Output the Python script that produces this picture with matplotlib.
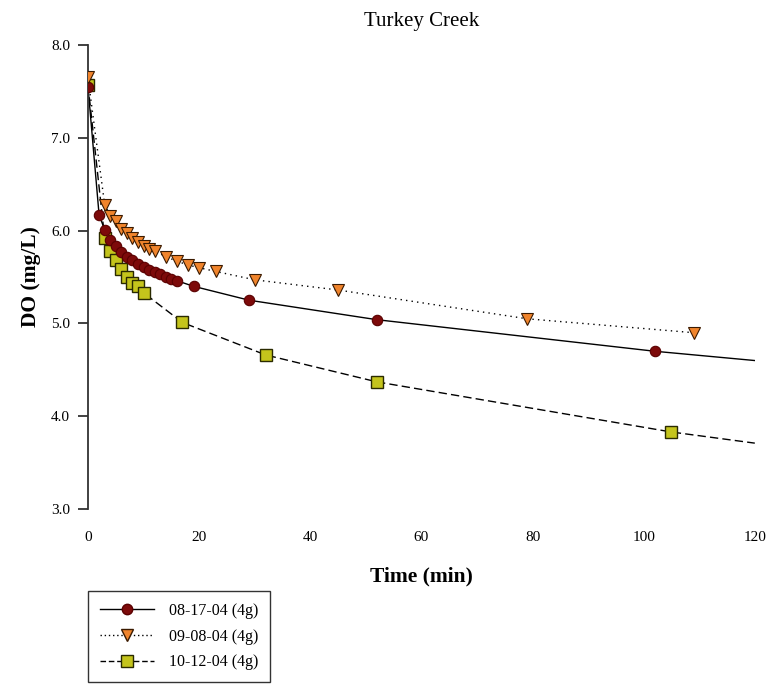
import matplotlib
matplotlib.use("Agg")
import matplotlib.pyplot as plt

# 08-17-04 (4g): measured points, then end of the drawn line at 120 min
t_aug = [0, 2, 3, 4, 5, 6, 7, 8, 9, 10, 11, 12, 13, 14, 15, 16, 19, 29, 52, 102]
do_aug = [7.55, 6.17, 6.01, 5.90, 5.83, 5.77, 5.72, 5.68, 5.64, 5.61, 5.58,
          5.55, 5.53, 5.50, 5.48, 5.46, 5.40, 5.25, 5.04, 4.70]
t_aug_line_end = 120
do_aug_line_end = 4.60

# 09-08-04 (4g)
t_sep = [0, 3, 4, 5, 6, 7, 8, 9, 10, 11, 12, 14, 16, 18, 20, 23, 30, 45, 79, 109]
do_sep = [7.65, 6.28, 6.16, 6.10, 6.02, 5.97, 5.92, 5.88, 5.83, 5.80, 5.78,
          5.72, 5.67, 5.63, 5.60, 5.56, 5.47, 5.36, 5.05, 4.90]

# 10-12-04 (4g)
t_oct = [0, 3, 4, 5, 6, 7, 8, 9, 10, 17, 32, 52, 105]
do_oct = [7.57, 5.92, 5.78, 5.68, 5.59, 5.50, 5.44, 5.40, 5.33, 5.01, 4.66, 4.37, 3.83]
t_oct_line_end = 120
do_oct_line_end = 3.71

labels = ["08-17-04 (4g)", "09-08-04 (4g)", "10-12-04 (4g)"]
x_ticks = [0, 20, 40, 60, 80, 100, 120]
y_ticks = [3.0, 4.0, 5.0, 6.0, 7.0, 8.0]

serif = ["Liberation Serif", "DejaVu Serif"]

fig = plt.figure(figsize=(7.71, 6.89), dpi=100)
ax = fig.add_axes([0.1141, 0.2612, 0.8649, 0.6735])

ax.plot(t_aug + [t_aug_line_end], do_aug + [do_aug_line_end], color="black", lw=1.0, zorder=2)
ax.plot(t_sep, do_sep, color="black", lw=1.0, ls=(0, (1, 3)), zorder=2)
ax.plot(t_oct + [t_oct_line_end], do_oct + [do_oct_line_end], color="black", lw=1.0,
        ls=(0, (6, 3)), zorder=2)

ax.plot(t_oct, do_oct, ls="none", marker="s", ms=8.5, mfc="#c4c41c", mec="#2a2a00",
        mew=1.0, zorder=3)
ax.plot(t_aug, do_aug, ls="none", marker="o", ms=7.5, mfc="#7d0a0a", mec="#5a0000",
        mew=0.8, zorder=4)
ax.plot(t_sep, do_sep, ls="none", marker="v", ms=9, mfc="#f0842c", mec="#3a1a00",
        mew=0.8, zorder=5)

# legend proxies combining line style and marker
h1, = ax.plot([], [], color="black", lw=1.0, marker="o", ms=7.5, mfc="#7d0a0a", mec="#5a0000")
h2, = ax.plot([], [], color="black", lw=1.0, ls=(0, (1, 2)), marker="v", ms=9,
              mfc="#f0842c", mec="#3a1a00")
h3, = ax.plot([], [], color="black", lw=1.0, ls=(0, (4, 2)), marker="s", ms=8,
              mfc="#c4c41c", mec="#2a2a00")

ax.set_xlim(0, 120)
ax.set_ylim(3.0, 8.0)
ax.set_xticks(x_ticks)
ax.set_yticks(y_ticks)
ax.set_yticklabels([f"{v:.1f}" for v in y_ticks])

for side in ["top", "right", "bottom"]:
    ax.spines[side].set_visible(False)
ax.spines["left"].set_linewidth(1.3)
ax.spines["left"].set_color("#333333")
ax.tick_params(axis="x", length=0, pad=16)
ax.tick_params(axis="y", length=7, width=1.3, color="#333333", pad=6)
for lab in ax.get_xticklabels() + ax.get_yticklabels():
    lab.set_fontfamily(serif)
    lab.set_fontsize(11)

ax.set_title("Turkey Creek", fontfamily=serif, fontsize=15, pad=14)
ax.set_xlabel("Time (min)", fontfamily=serif, fontsize=15.5, fontweight="bold", labelpad=16)
ax.set_ylabel("DO (mg/L)", fontfamily=serif, fontsize=15.5, fontweight="bold", labelpad=7)

fig.legend([h1, h2, h3], labels, loc="upper left", bbox_to_anchor=(0.1141, 0.1422),
           borderaxespad=0, prop={"family": serif, "size": 11.5}, frameon=True,
           fancybox=False, edgecolor="black", handlelength=3.4, borderpad=0.75,
           labelspacing=0.6, handletextpad=0.9)

fig.savefig("out.png", dpi=100)
